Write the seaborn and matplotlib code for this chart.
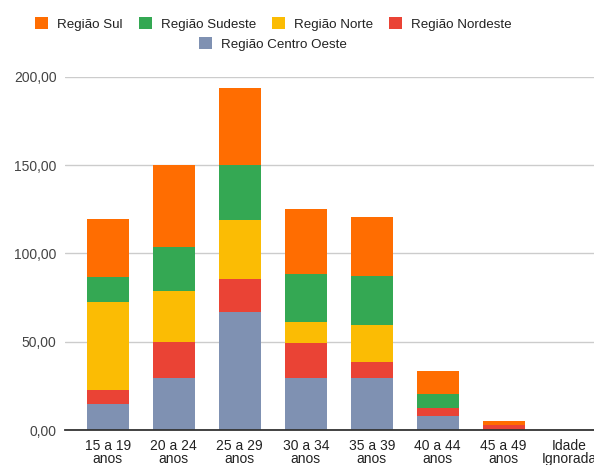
import numpy as np
import pandas as pd
import seaborn as sns
import matplotlib.pyplot as plt
from matplotlib.patches import Patch
from matplotlib.ticker import FuncFormatter

categories = ["15 a 19\nanos", "20 a 24\nanos", "25 a 29\nanos", "30 a 34\nanos",
              "35 a 39\nanos", "40 a 44\nanos", "45 a 49\nanos", "Idade\nIgnorada"]

# stacked from the bottom up
centro_oeste = [14.9, 29.5, 66.7, 29.5, 29.5, 7.8, 0.0, 0.0]
nordeste     = [7.6, 20.4, 18.9, 19.6, 9.0, 4.8, 2.9, 0.0]
norte        = [49.8, 28.7, 33.4, 11.9, 21.0, 0.0, 0.0, 0.0]
sudeste      = [14.5, 25.1, 31.0, 27.4, 27.9, 7.6, 0.0, 0.0]
sul          = [32.7, 46.3, 43.8, 36.8, 33.1, 13.2, 2.0, 0.0]

series_names = ["Região Centro Oeste", "Região Nordeste", "Região Norte",
                "Região Sudeste", "Região Sul"]
series_values = [centro_oeste, nordeste, norte, sudeste, sul]
colors = {
    "Região Sul": "#FF6D01",
    "Região Sudeste": "#34A853",
    "Região Norte": "#FBBC04",
    "Região Nordeste": "#EA4335",
    "Região Centro Oeste": "#7F91B2",
}

df = pd.DataFrame({"faixa": categories})
running = np.zeros(len(categories))
for name, vals in zip(series_names, series_values):
    running = running + np.array(vals)
    df[name] = running.copy()

sns.set_theme(style="white")
plt.rcParams["font.family"] = ["Liberation Sans", "DejaVu Sans"]

fig = plt.figure(figsize=(5.94, 4.65), dpi=100)
ax = fig.add_axes([65 / 594, 35 / 465, 529 / 594, 353 / 465])

# cumulative totals drawn tallest first so each layer shows its own segment
for name in reversed(series_names):
    sns.barplot(data=df, x="faixa", y=name, color=colors[name], width=0.64,
                saturation=1, linewidth=0, edgecolor="none", ax=ax, zorder=2)

ax.set_ylim(0, 200)
ax.set_xlim(-0.65, 7.37)
ax.set_yticks([0, 50, 100, 150, 200])
ax.yaxis.set_major_formatter(FuncFormatter(lambda v, p: f"{v:.2f}".replace(".", ",")))
ax.grid(axis="y", color="#CCCCCC", linewidth=1, zorder=0)
ax.set_axisbelow(True)
for s in ["top", "right", "left"]:
    ax.spines[s].set_visible(False)
ax.spines["bottom"].set_color("#333333")
ax.spines["bottom"].set_linewidth(1.3)
ax.spines["bottom"].set_zorder(3)
ax.set_xlabel("")
ax.set_ylabel("")
ax.tick_params(axis="y", length=0, pad=6, labelsize=10, labelcolor="#444444")
ax.tick_params(axis="x", length=0, pad=6.5, labelsize=10, labelcolor="#222222")
for lbl in ax.get_xticklabels():
    lbl.set_linespacing(0.92)

legend_font = {"family": ["Liberation Sans", "DejaVu Sans"], "size": 9.6}
row1 = ["Região Sul", "Região Sudeste", "Região Norte", "Região Nordeste"]
h1 = [Patch(facecolor=colors[n], edgecolor="none") for n in row1]
fig.legend(h1, row1, loc="center", bbox_to_anchor=(273.5 / 594, 1 - 24 / 465),
           ncol=4, frameon=False, prop=legend_font, handlelength=0.98,
           handleheight=0.98, handletextpad=0.68, columnspacing=1.2,
           labelcolor="#222222")
h2 = [Patch(facecolor=colors["Região Centro Oeste"], edgecolor="none")]
fig.legend(h2, ["Região Centro Oeste"], loc="center",
           bbox_to_anchor=(273 / 594, 1 - 44 / 465), frameon=False, prop=legend_font,
           handlelength=0.98, handleheight=0.98, handletextpad=0.68,
           labelcolor="#222222")

fig.savefig("out.png", dpi=100)
